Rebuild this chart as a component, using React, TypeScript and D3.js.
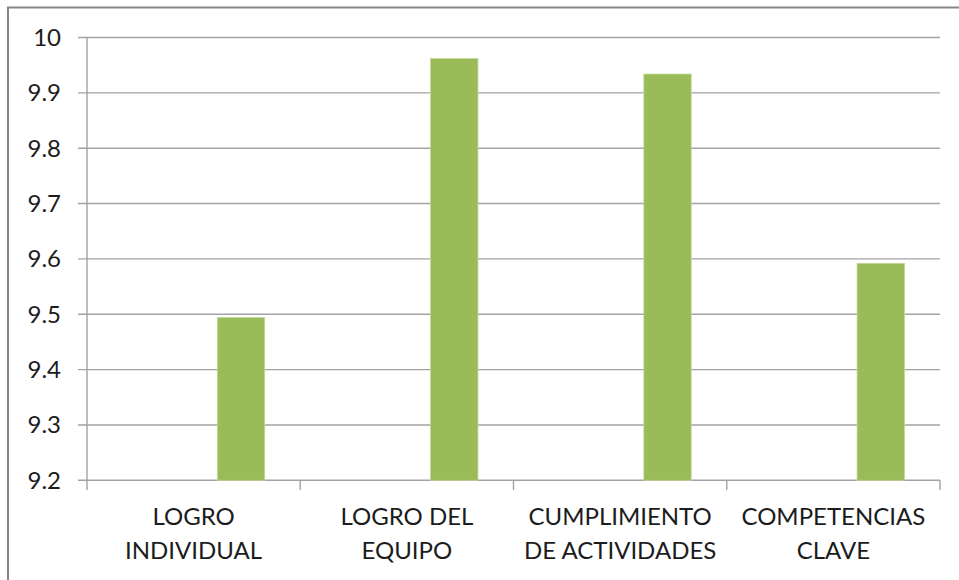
import React from "react";
import * as d3 from "d3";

const categories: string[][] = [
  ["LOGRO", "INDIVIDUAL"],
  ["LOGRO DEL", "EQUIPO"],
  ["CUMPLIMIENTO", "DE ACTIVIDADES"],
  ["COMPETENCIAS", "CLAVE"],
];
const values: number[] = [9.494, 9.962, 9.934, 9.592];
const yTicks: number[] = [9.2, 9.3, 9.4, 9.5, 9.6, 9.7, 9.8, 9.9, 10];
// three series slots per category; the visible data sits in the third slot
const seriesSlots: string[] = ["s1", "s2", "s3"];

const W = 959;
const H = 580;
const left = 87;
const right = 940;
const top = 37.5;
const bottom = 480.3;

export default function App() {
  const y = d3.scaleLinear().domain([9.2, 10]).range([bottom, top]);
  const x = d3
    .scaleBand<number>()
    .domain(categories.map((_, i) => i))
    .range([left, right])
    .paddingInner(0)
    .paddingOuter(0);
  const bw = x.bandwidth();
  const gap = (bw * 1.5) / 4.5 / 2;
  const inner = d3
    .scaleBand<string>()
    .domain(seriesSlots)
    .range([gap, bw - gap])
    .padding(0);
  const font = "Lato, 'Open Sans', sans-serif";
  const grid = "#a3a3a3";
  const boundaries = [...categories.map((_, i) => x(i)!), right];

  return (
    <svg
      width={W}
      height={H}
      style={{ position: "fixed", left: 0, top: 0, background: "#fff" }}
      fontFamily={font}
    >
      <rect x={0} y={0} width={W} height={H} fill="#fff" />
      <rect
        x={8}
        y={7.5}
        width={1200}
        height={1200}
        fill="none"
        stroke="#868686"
        strokeWidth={2}
      />
      {yTicks.map((t) => (
        <g key={t}>
          <line
            x1={78}
            x2={right}
            y1={y(t)}
            y2={y(t)}
            stroke={grid}
            strokeWidth={1.4}
          />
          <text
            x={61}
            y={y(t) + 8.5}
            textAnchor="end"
            fontSize={24}
            fill="#1c1c1c"
          >
            {t === 10 ? "10" : t.toFixed(1)}
          </text>
        </g>
      ))}
      <line x1={left} x2={left} y1={top} y2={bottom} stroke={grid} strokeWidth={1.4} />
      {boundaries.map((b, i) => (
        <line key={i} x1={b} x2={b} y1={bottom} y2={490} stroke={grid} strokeWidth={1.4} />
      ))}
      {values.map((v, i) => (
        <rect
          key={i}
          x={x(i)! + inner("s3")!}
          y={y(v)}
          width={inner.bandwidth()}
          height={bottom - y(v)}
          fill="#9BBB59"
          stroke="#c2d89a"
          strokeWidth={0.8}
        />
      ))}
      {categories.map((lines, i) => (
        <text
          key={i}
          x={x(i)! + bw / 2}
          textAnchor="middle"
          fontSize={24}
          fill="#1c1c1c"
        >
          {lines.map((l, j) => (
            <tspan key={j} x={x(i)! + bw / 2} y={525 + j * 34}>
              {l}
            </tspan>
          ))}
        </text>
      ))}
    </svg>
  );
}
